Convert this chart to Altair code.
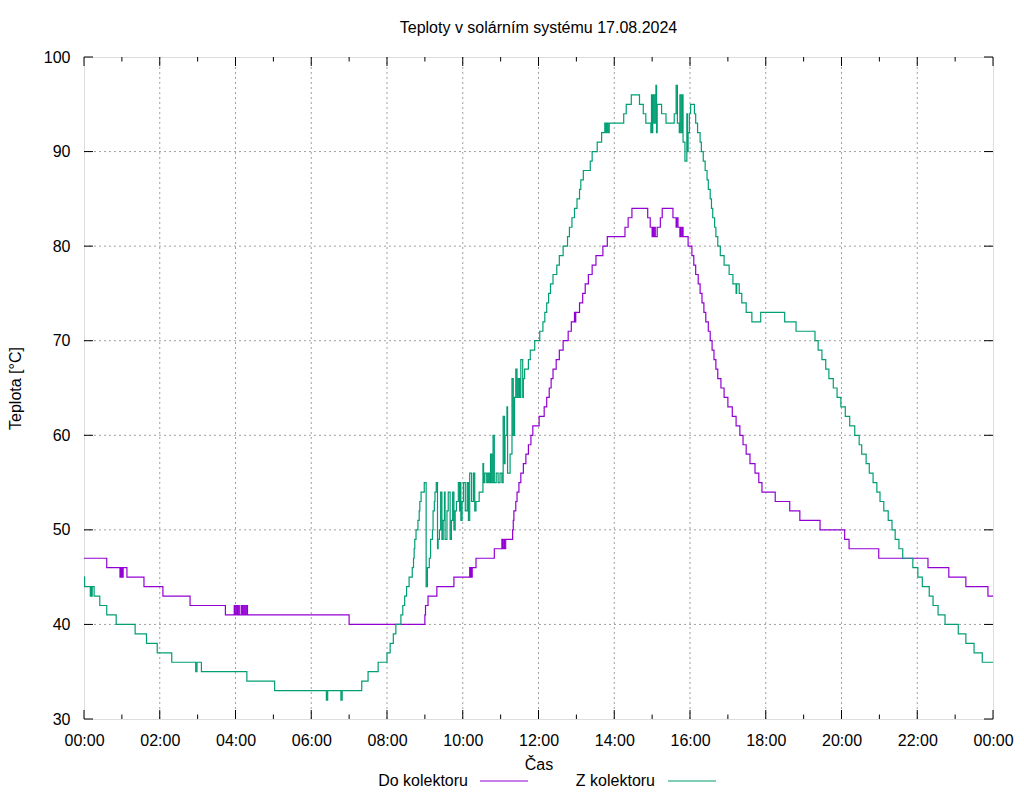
import altair as alt
import pandas as pd

# ---- data (minutes after midnight, temperature in degC; change points of a step series) ----
do_min = [0, 36, 57, 58, 59, 60, 61, 62, 68, 95, 125, 168, 224, 238, 239, 241, 243, 245, 246, 249, 251, 253,
          255, 257, 259, 420, 540, 541, 545, 559, 586, 611, 612, 613, 614, 615, 621, 650, 662, 663, 665, 666,
          668, 679, 680, 681, 684, 686, 689, 692, 696, 700, 704, 708, 711, 721, 729, 733, 737, 740, 743, 748,
          753, 759, 767, 772, 777, 778, 779, 785, 790, 794, 799, 805, 811, 822, 829, 857, 862, 868, 893, 897,
          900, 901, 902, 904, 905, 908, 913, 916, 933, 938, 939, 941, 944, 945, 946, 948, 949, 957, 963, 966,
          969, 973, 976, 979, 982, 985, 989, 992, 995, 998, 1001, 1004, 1009, 1014, 1020, 1027, 1033, 1039,
          1044, 1049, 1055, 1063, 1069, 1074, 1095, 1118, 1134, 1166, 1205, 1212, 1259, 1337, 1370, 1397,
          1432, 1440]
do_val = [47, 46, 45, 46, 45, 46, 45, 46, 45, 44, 43, 42, 41, 42, 41, 42, 41, 42, 41, 42, 41, 42,
          41, 42, 41, 40, 41, 42, 43, 44, 45, 46, 45, 46, 45, 46, 47, 48, 49, 48, 49, 48,
          49, 50, 51, 52, 53, 54, 55, 56, 57, 58, 59, 60, 61, 62, 63, 64, 65, 66, 67, 68,
          69, 70, 71, 72, 73, 72, 73, 74, 75, 76, 77, 78, 79, 80, 81, 82, 83, 84, 83, 82,
          81, 82, 81, 82, 81, 82, 83, 84, 83, 82, 83, 82, 81, 82, 81, 82, 81, 80, 79, 78,
          77, 76, 75, 74, 73, 72, 71, 70, 69, 68, 67, 66, 65, 64, 63, 62, 61, 60,
          59, 58, 57, 56, 55, 54, 53, 52, 51, 50, 49, 48, 47, 46, 45, 44,
          43, 43]

z_min = [0, 1, 10, 11, 12, 13, 16, 25, 36, 51, 81, 99, 116, 139, 177, 179, 186, 258, 302, 384, 386, 407, 409,
         440, 450, 466, 480, 485, 490, 494, 502, 505, 508, 511, 515, 520, 522, 523, 524, 526, 529, 531, 532,
         534, 539, 542, 544, 547, 549, 552, 553, 555, 556, 558, 560, 561, 563, 565, 567, 569, 571, 572, 575,
         577, 580, 582, 584, 586, 588, 590, 593, 595, 596, 597, 599, 601, 604, 607, 609, 611, 614, 617, 619,
         621, 626, 632, 633, 635, 638, 640, 642, 644, 646, 648, 650, 653, 656, 659, 662, 664, 666, 667, 670,
         671, 675, 678, 680, 682, 684, 686, 688, 690, 692, 695, 696, 698, 704, 707, 714, 722, 727, 730, 733,
         736, 739, 743, 749, 753, 759, 766, 769, 773, 777, 781, 785, 787, 791, 802, 805, 813, 820, 825, 827,
         828, 830, 832, 855, 859, 867, 880, 886, 890, 898, 899, 900, 901, 903, 905, 906, 907, 908, 915, 922,
         935, 938, 940, 943, 944, 946, 948, 949, 952, 955, 956, 957, 959, 961, 967, 969, 972, 976, 978, 981,
         984, 987, 989, 992, 994, 996, 999, 1001, 1004, 1008, 1014, 1022, 1028, 1033, 1034, 1038, 1042, 1049,
         1058, 1072, 1110, 1128, 1158, 1163, 1169, 1175, 1180, 1187, 1193, 1199, 1206, 1213, 1221, 1228, 1232,
         1239, 1244, 1250, 1256, 1261, 1267, 1274, 1280, 1285, 1291, 1297, 1313, 1321, 1328, 1339, 1345, 1353,
         1364, 1385, 1397, 1410, 1423, 1440]
z_val = [45, 44, 43, 44, 43, 44, 43, 42, 41, 40, 39, 38, 37, 36, 35, 36, 35, 34, 33, 32, 33, 32, 33,
         34, 35, 36, 37, 38, 39, 40, 41, 42, 43, 44, 45, 46, 47, 48, 49, 50, 51, 52, 53,
         54, 55, 44, 46, 47, 49, 50, 52, 53, 54, 55, 48, 49, 50, 54, 49, 51, 54, 49, 52,
         54, 49, 51, 54, 50, 52, 53, 55, 52, 55, 51, 53, 55, 52, 55, 51, 56, 53, 56, 52,
         53, 54, 57, 55, 56, 55, 56, 55, 58, 55, 60, 55, 56, 55, 56, 55, 62, 57, 60, 63,
         56, 58, 66, 60, 64, 67, 64, 66, 64, 68, 64, 66, 67, 68, 69, 70, 71, 72, 73, 74,
         75, 76, 77, 78, 79, 80, 81, 82, 83, 84, 85, 86, 87, 88, 89, 90, 91, 92, 93, 92,
         93, 92, 93, 94, 95, 96, 95, 94, 93, 92, 96, 92, 96, 93, 96, 97, 92, 95, 94, 93,
         94, 97, 93, 92, 96, 92, 96, 91, 89, 94, 90, 92, 94, 95, 94, 93, 92, 91, 90, 89,
         88, 87, 86, 85, 84, 83, 82, 81, 80, 79, 78, 77, 76, 75, 76, 75, 74, 73,
         72, 73, 72, 71, 70, 69, 68, 67, 66, 65, 64, 63, 62, 61, 60, 59, 58,
         57, 56, 55, 54, 53, 52, 51, 50, 49, 48, 47, 46, 45, 44, 43, 42, 41,
         40, 39, 38, 37, 36, 36]

series_names = ["Do kolektoru", "Z kolektoru"]
series_colors = ["#9400d3", "#009e73"]

x_major = list(range(0, 1441, 120))
x_minor = list(range(60, 1440, 120))
y_major = list(range(30, 101, 10))
x_grid = list(range(120, 1440, 120))
y_grid = list(range(40, 100, 10))

FONT = "Liberation Sans"
FS = 16
W, H = 909, 662

df = pd.concat([
    pd.DataFrame({"m": do_min, "t": do_val, "s": series_names[0]}),
    pd.DataFrame({"m": z_min, "t": z_val, "s": series_names[1]}),
], ignore_index=True)

xs = alt.Scale(domain=[0, 1440], nice=False, zero=False)
ys = alt.Scale(domain=[30, 100], nice=False, zero=False)

x_axis = alt.Axis(values=x_major, grid=False, ticks=False, domain=False,
                  labelExpr="format(floor(datum.value / 60) % 24, '02d') + ':00'",
                  labelFlush=False, labelOverlap=False, labelPadding=13,
                  labelFontSize=FS, labelColor="black", labelFont=FONT,
                  title="Čas", titleFont=FONT, titleFontSize=FS, titleFontWeight="normal",
                  titleColor="black", titlePadding=8)
y_axis = alt.Axis(values=y_major, grid=False, ticks=False, domain=False,
                  labelPadding=14, labelFontSize=FS, labelColor="black", labelFont=FONT,
                  title="Teplota [°C]", titleFont=FONT, titleFontSize=FS, titleFontWeight="normal",
                  titleColor="black", titlePadding=20)

X = alt.X("m:Q", scale=xs, axis=x_axis)
Y = alt.Y("t:Q", scale=ys, axis=y_axis)

grid_x = alt.Chart(pd.DataFrame({"m": x_grid})).mark_rule(
    color="#a0a0a0", strokeDash=[2, 3], strokeWidth=1).encode(x=X, y=alt.value(0), y2=alt.value(H))
grid_y = alt.Chart(pd.DataFrame({"t": y_grid})).mark_rule(
    color="#a0a0a0", strokeDash=[2, 3], strokeWidth=1).encode(y=Y, x=alt.value(0), x2=alt.value(W))

lines = alt.Chart(df).mark_line(interpolate="step-after", strokeWidth=1.2).encode(
    x=X, y=Y,
    color=alt.Color("s:N", scale=alt.Scale(domain=series_names, range=series_colors), legend=None),
)


def xt(vals, y0, y1):
    return alt.Chart(pd.DataFrame({"m": vals})).mark_rule(color="black", strokeWidth=1).encode(
        x=X, y=alt.value(y0), y2=alt.value(y1))


def yt(vals, x0, x1):
    return alt.Chart(pd.DataFrame({"t": vals})).mark_rule(color="black", strokeWidth=1).encode(
        y=Y, x=alt.value(x0), x2=alt.value(x1))


ticks = [
    xt(x_major, H, H - 9), xt(x_minor, H, H - 4.5),
    xt(x_major, 0, 9), xt(x_minor, 0, 4.5),
    yt(y_major, 0, 9), yt(y_major, W, W - 9),
]

LEG_Y = 724


def leg_text(name, xr):
    return alt.Chart(pd.DataFrame({"s": [name]})).mark_text(
        align="right", baseline="middle", fontSize=FS, font=FONT, color="black").encode(
        text="s:N", x=alt.value(xr), y=alt.value(LEG_Y))


def leg_line(color, x0, x1):
    return alt.Chart(pd.DataFrame({"s": [0]})).mark_rule(color=color, strokeWidth=1.2).encode(
        x=alt.value(x0), x2=alt.value(x1), y=alt.value(LEG_Y))


legend = [
    leg_text(series_names[0], 384), leg_line(series_colors[0], 396, 444),
    leg_text(series_names[1], 571), leg_line(series_colors[1], 584, 632),
]

chart = alt.layer(grid_x, grid_y, lines, *ticks, *legend).properties(
    width=W, height=H,
    title=alt.TitleParams("Teploty v solárním systému 17.08.2024", font=FONT, fontSize=FS,
                          fontWeight="normal", color="black", offset=13),
    padding={"left": 76, "top": 49, "right": 23, "bottom": 73},
    autosize=alt.AutoSizeParams(type="none"),
).configure_view(stroke="black", strokeWidth=1).configure(background="white")

chart.save("out.html", embed_options={"renderer": "svg", "actions": False})
